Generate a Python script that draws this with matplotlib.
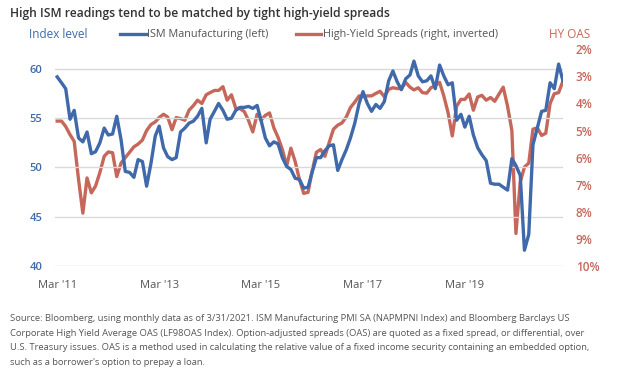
import matplotlib
matplotlib.use("Agg")
import matplotlib.pyplot as plt
import pandas as pd

plt.rcParams['font.family'] = ['Open Sans', 'DejaVu Sans']

dates = pd.date_range('2011-03-01', periods=120, freq='MS')

ism = [
    59.2, 58.6, 58.0, 54.9, 55.8, 53.0, 52.6, 53.6, 51.4, 51.6,
    52.5, 54.0, 53.3, 53.4, 55.2, 52.8, 49.6, 49.5, 49.0, 50.8,
    50.6, 48.1, 50.4, 53.2, 54.2, 52.0, 51.1, 50.8, 51.0, 53.6,
    54.0, 54.5, 54.7, 55.2, 56.0, 52.5, 54.9, 55.7, 56.5, 55.8,
    54.9, 55.0, 55.8, 56.1, 56.1, 56.2, 56.0, 56.3, 54.8, 53.0,
    52.2, 52.6, 52.4, 51.0, 50.1, 49.8, 48.9, 48.8, 47.9, 48.0,
    49.5, 51.0, 51.0, 51.7, 52.2, 52.3, 49.7, 50.8, 51.8, 53.0,
    54.5, 56.5, 57.7, 56.5, 55.7, 56.4, 56.0, 56.7, 58.8, 59.8,
    58.7, 57.9, 59.0, 59.4, 60.8, 59.3, 58.7, 58.8, 59.3, 58.0,
    60.4, 59.3, 58.4, 58.6, 54.8, 55.4, 54.1, 55.2, 53.3, 52.0,
    51.3, 50.7, 48.4, 48.3, 48.3, 48.0, 47.7, 50.9, 50.2, 49.2,
    41.6, 43.2, 52.3, 54.0, 55.7, 55.8, 58.6, 58.0, 60.5, 58.8,
]

hy_oas = [
    4.65, 4.65, 4.85, 5.15, 5.40, 6.80, 8.05, 6.75, 7.30, 7.05,
    6.55, 5.95, 5.79, 5.82, 6.70, 6.20, 6.00, 5.80, 5.60, 5.50,
    5.35, 5.00, 4.78, 4.68, 4.52, 4.40, 4.50, 4.97, 4.52, 4.56,
    4.62, 4.25, 4.08, 3.88, 4.00, 3.68, 3.60, 3.52, 3.52, 3.38,
    3.88, 3.68, 4.18, 4.19, 4.30, 4.62, 5.05, 4.40, 4.62, 4.44,
    4.35, 4.90, 5.25, 5.70, 6.30, 5.65, 6.15, 6.80, 7.32, 7.28,
    6.50, 5.80, 5.70, 5.95, 5.45, 4.95, 4.80, 4.72, 4.50, 4.15,
    3.95, 3.72, 3.75, 3.72, 3.72, 3.63, 3.55, 3.75, 3.48, 3.42,
    3.45, 3.45, 3.22, 3.40, 3.50, 3.42, 3.60, 3.62, 3.42, 3.34,
    3.22, 3.72, 4.35, 5.20, 4.10, 3.85, 3.85, 3.65, 4.25, 3.76,
    3.70, 3.88, 3.78, 3.92, 3.65, 3.40, 4.10, 5.00, 8.80, 6.90,
    6.35, 6.20, 4.95, 4.90, 5.18, 5.10, 4.00, 3.64, 3.60, 3.17,
]

left_ticks = [40, 45, 50, 55, 60]
right_ticks = [2, 3, 4, 5, 6, 7, 8, 9, 10]
x_tick_dates = pd.to_datetime(['2011-03-01', '2013-03-01', '2015-03-01', '2017-03-01', '2019-03-01'])
x_tick_labels = ["Mar '11", "Mar '13", "Mar '15", "Mar '17", "Mar '19"]

BLUE = '#3f69aa'
RED = '#c6675b'
GRID = '#d9d9d9'
TEXT = '#333333'
TICKGRAY = '#555555'

fig = plt.figure(figsize=(6.3, 3.72), dpi=100)
ax = fig.add_axes([0.087, 0.285, 0.807, 0.5825])
ax2 = ax.twinx()

ax.set_ylim(40, 62)
ax2.set_ylim(10, 2)
ax.set_xlim(pd.Timestamp('2011-02-12'), pd.Timestamp('2021-02-03'))

ax.set_yticks(left_ticks)
ax.yaxis.grid(True, color=GRID, linewidth=1.0)
ax.set_axisbelow(True)
ax2.set_yticks(right_ticks)
ax2.set_yticklabels([f'{t}%' for t in right_ticks])

ax.set_xticks(x_tick_dates)
ax.set_xticklabels(x_tick_labels)

ax2.plot(dates, hy_oas, color=RED, linewidth=2.4, solid_joinstyle='round', zorder=2)
ax.plot(dates, ism, color=BLUE, linewidth=2.4, solid_joinstyle='round', zorder=3)
ax.set_zorder(ax2.get_zorder() + 1)
ax.patch.set_visible(False)

for a in (ax, ax2):
    for s in a.spines.values():
        s.set_visible(False)
    a.tick_params(length=0)

ax.tick_params(axis='y', colors=BLUE, labelsize=8, pad=9)
for lab in ax.get_yticklabels():
    lab.set_fontweight('semibold')
ax.tick_params(axis='x', colors=TICKGRAY, labelsize=8, pad=10)
ax2.tick_params(axis='y', colors=RED, labelsize=8.5, pad=9)
for lab in ax2.get_yticklabels():
    lab.set_fontweight('semibold')

fig.text(0.016, 0.963, 'High ISM readings tend to be matched by tight high-yield spreads',
         fontsize=8.7, fontweight='semibold', color=TEXT, va='center', ha='left')
fig.text(0.046, 0.908, 'Index level', fontsize=8.5, color=BLUE, va='center', ha='left')
fig.text(0.937, 0.908, 'HY OAS', fontsize=8.5, color=RED, va='center', ha='right')

# legend
fig.lines.append(plt.Line2D([0.191, 0.231], [0.908, 0.908], transform=fig.transFigure,
                            color=BLUE, linewidth=2.4))
fig.text(0.233, 0.908, 'ISM Manufacturing (left)', fontsize=7.8, color=TICKGRAY, va='center', ha='left')
fig.lines.append(plt.Line2D([0.470, 0.510], [0.908, 0.908], transform=fig.transFigure,
                            color=RED, linewidth=2.4))
fig.text(0.512, 0.908, 'High-Yield Spreads (right, inverted)', fontsize=7.8, color=TICKGRAY,
         va='center', ha='left')

source = ("Source: Bloomberg, using monthly data as of 3/31/2021. ISM Manufacturing PMI SA (NAPMPNI Index) and Bloomberg Barclays US\n"
          "Corporate High Yield Average OAS (LF98OAS Index). Option-adjusted spreads (OAS) are quoted as a fixed spread, or differential, over\n"
          "U.S. Treasury issues. OAS is a method used in calculating the relative value of a fixed income security containing an embedded option,\n"
          "such as a borrower's option to prepay a loan.")
fig.text(0.016, 0.157, source, fontsize=6.75, color=TICKGRAY, va='top', ha='left', linespacing=1.85)

fig.savefig('out.png', dpi=100)
